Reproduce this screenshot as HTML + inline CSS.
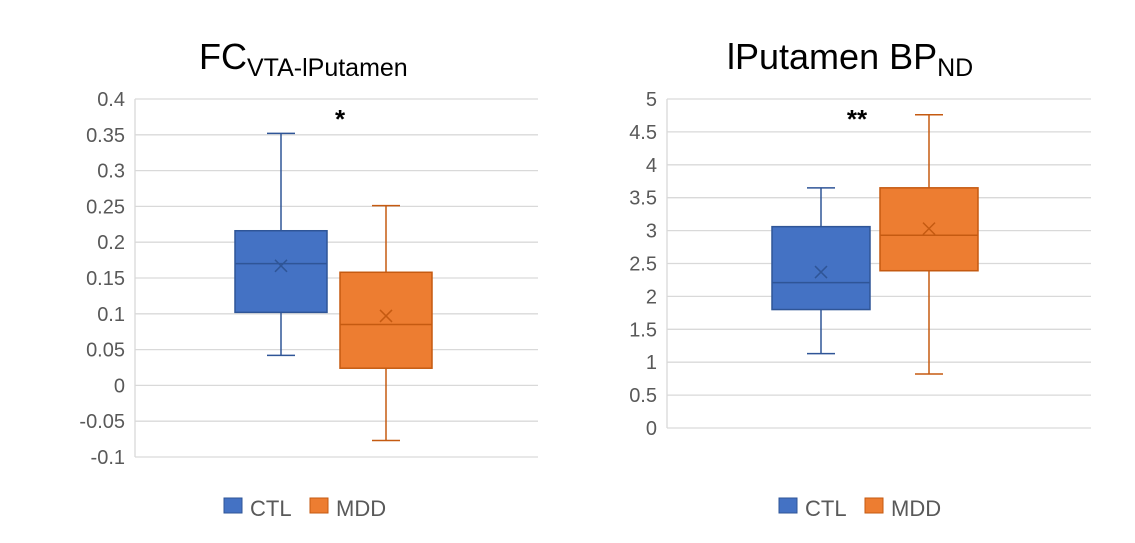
<!DOCTYPE html>
<html><head><meta charset="utf-8"><style>
html,body{margin:0;padding:0;background:#fff;}
svg{display:block;font-family:"Liberation Sans",sans-serif;}
</style></head><body>
<svg id="c" width="1135" height="543"></svg>
<script>
const groups = ["CTL","MDD"];
const fcMin = [0.042, -0.077];
const fcQ1 = [0.102, 0.024];
const fcMed = [0.17, 0.085];
const fcQ3 = [0.216, 0.158];
const fcMax = [0.352, 0.251];
const fcMean = [0.167, 0.097];
const fcTicks = ["0.4","0.35","0.3","0.25","0.2","0.15","0.1","0.05","0","-0.05","-0.1"];
const bpMin = [1.13, 0.82];
const bpQ1 = [1.80, 2.39];
const bpMed = [2.21, 2.93];
const bpQ3 = [3.06, 3.65];
const bpMax = [3.65, 4.76];
const bpMean = [2.37, 3.03];
const bpTicks = ["5","4.5","4","3.5","3","2.5","2","1.5","1","0.5","0"];

const NS="http://www.w3.org/2000/svg";
const svg=document.getElementById('c');
function mk(tag,attrs,parent,text){const e=document.createElementNS(NS,tag);for(const k in attrs)e.setAttribute(k,attrs[k]);if(text!==undefined)e.textContent=text;(parent||svg).appendChild(e);return e;}
const fills=["#4472C4","#ED7D31"], strokes=["#2F5597","#C55A11"];

function drawChart(cfg){
  const g=mk('g',{});
  
  
  const y=v=>cfg.y0+(cfg.top-v)/(cfg.top-cfg.bot)*(cfg.y1-cfg.y0);
  cfg.ticks.forEach(t=>{
    const v=parseFloat(t), yy=y(v);
    const l=mk('line',{x1:cfg.x0,x2:cfg.x1,y1:yy,y2:yy,stroke:'#d9d9d9','stroke-width':1.3},g);
    
    
    const tx=mk('text',{x:cfg.x0-10,y:yy+7,'text-anchor':'end','font-size':20,fill:'#595959'},g,t);
    
    
  });
  const ax=mk('line',{x1:cfg.x0,x2:cfg.x0,y1:cfg.y0,y2:cfg.y1,stroke:'#d9d9d9','stroke-width':1.3},g);
  
  
  groups.forEach((gr,i)=>{
    const cx=cfg.cx[i], hw=cfg.hw, bg=mk('g',{},g);
    
    
    const st={stroke:strokes[i],'stroke-width':1.5};
    mk('line',Object.assign({x1:cx,x2:cx,y1:y(cfg.max[i]),y2:y(cfg.q3[i])},st),bg);
    mk('line',Object.assign({x1:cx,x2:cx,y1:y(cfg.q1[i]),y2:y(cfg.min[i])},st),bg);
    mk('line',Object.assign({x1:cx-14,x2:cx+14,y1:y(cfg.max[i]),y2:y(cfg.max[i])},st),bg);
    mk('line',Object.assign({x1:cx-14,x2:cx+14,y1:y(cfg.min[i]),y2:y(cfg.min[i])},st),bg);
    mk('rect',Object.assign({x:cx-hw,width:2*hw,y:y(cfg.q3[i]),height:y(cfg.q1[i])-y(cfg.q3[i]),fill:fills[i]},st),bg);
    mk('line',Object.assign({x1:cx-hw,x2:cx+hw,y1:y(cfg.med[i]),y2:y(cfg.med[i])},st),bg);
    const my=y(cfg.mean[i]);
    mk('path',Object.assign({d:`M${cx-6} ${my-6}L${cx+6} ${my+6}M${cx+6} ${my-6}L${cx-6} ${my+6}`,fill:'none'},st),bg);
  });
  const s=mk('text',{x:cfg.starX,y:128,'text-anchor':'middle','font-size':26,'font-weight':'bold',fill:'#000'},g,cfg.star);
  
  
  const lg=mk('g',{},g);
  
  
  const lx=cfg.legX;
  [[0,0,'CTL'],[1,86,'MDD']].forEach(([i,dx,t])=>{
    const e=mk('g',{},lg);
    
    
    mk('rect',{x:lx+dx,y:498,width:18,height:15,fill:fills[i],stroke:strokes[i],'stroke-width':1},e);
    mk('text',{x:lx+dx+26,y:516,'font-size':22,fill:'#595959'},e,t);
  });
}

drawChart({name:'fc-chart',x0:135,x1:538,y0:99,y1:457,top:0.4,bot:-0.1,ticks:fcTicks,cx:[281,386],hw:46,
  min:fcMin,q1:fcQ1,med:fcMed,q3:fcQ3,max:fcMax,mean:fcMean,star:'*',starX:340,legX:224});
drawChart({name:'bp-chart',x0:667,x1:1091,y0:99,y1:428,top:5,bot:0,ticks:bpTicks,cx:[821,929],hw:49,
  min:bpMin,q1:bpQ1,med:bpMed,q3:bpQ3,max:bpMax,mean:bpMean,star:'**',starX:857,legX:779});

const t1=mk('text',{x:199,y:69,'font-size':36,fill:'#000'});


mk('tspan',{},t1,'FC');
mk('tspan',{'font-size':25,dy:7},t1,'VTA-lPutamen');
const t2=mk('text',{x:727,y:69,'font-size':36,fill:'#000'});


mk('tspan',{},t2,'lPutamen BP');
mk('tspan',{'font-size':25,dy:7},t2,'ND');
</script>
</body></html>
